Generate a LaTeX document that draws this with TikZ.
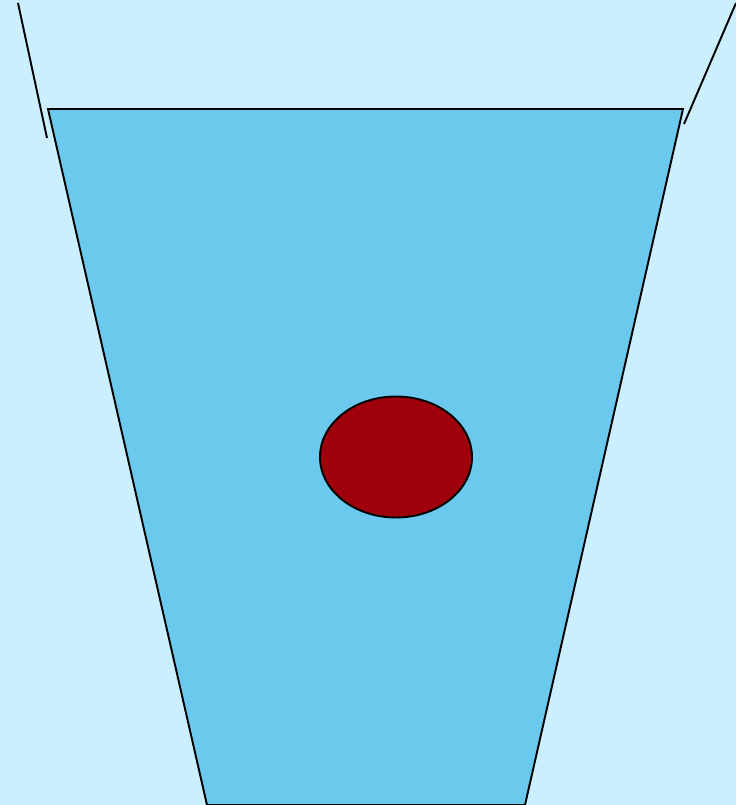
\documentclass[tikz,border=0pt]{standalone}
\usepackage{tikz}
\definecolor{SkyBack}{RGB}{204,239,255}
\definecolor{WaterBlue}{RGB}{108,201,238}
\definecolor{BallRed}{RGB}{160,0,12}
\begin{document}
\begin{tikzpicture}[x=0.02cm, y=-0.02cm, line width=1.1pt]
  \tikzset{edge/.style={draw=black, line join=miter}}
  % background
  \fill[SkyBack] (0,0) rectangle (736,805);
  \useasboundingbox (0,0) rectangle (736,805);
  % cup corners
  \coordinate (tl) at (48,109);
  \coordinate (tr) at (683,109);
  \coordinate (br) at (525,805);
  \coordinate (bl) at (207,805);
  \filldraw[edge, fill=WaterBlue] (bl) -- (tl) -- (tr) -- (br) -- cycle;
  % side strokes
  \coordinate (la) at (18,3);
  \coordinate (lb) at (47,138);
  \coordinate (ra) at (736,3);
  \coordinate (rb) at (684,124);
  \draw[edge] (la) -- (lb);
  \draw[edge] (ra) -- (rb);
  % ball
  \filldraw[edge, fill=BallRed] (396,457) ellipse [x radius=76, y radius=60.5];
\end{tikzpicture}
\end{document}
